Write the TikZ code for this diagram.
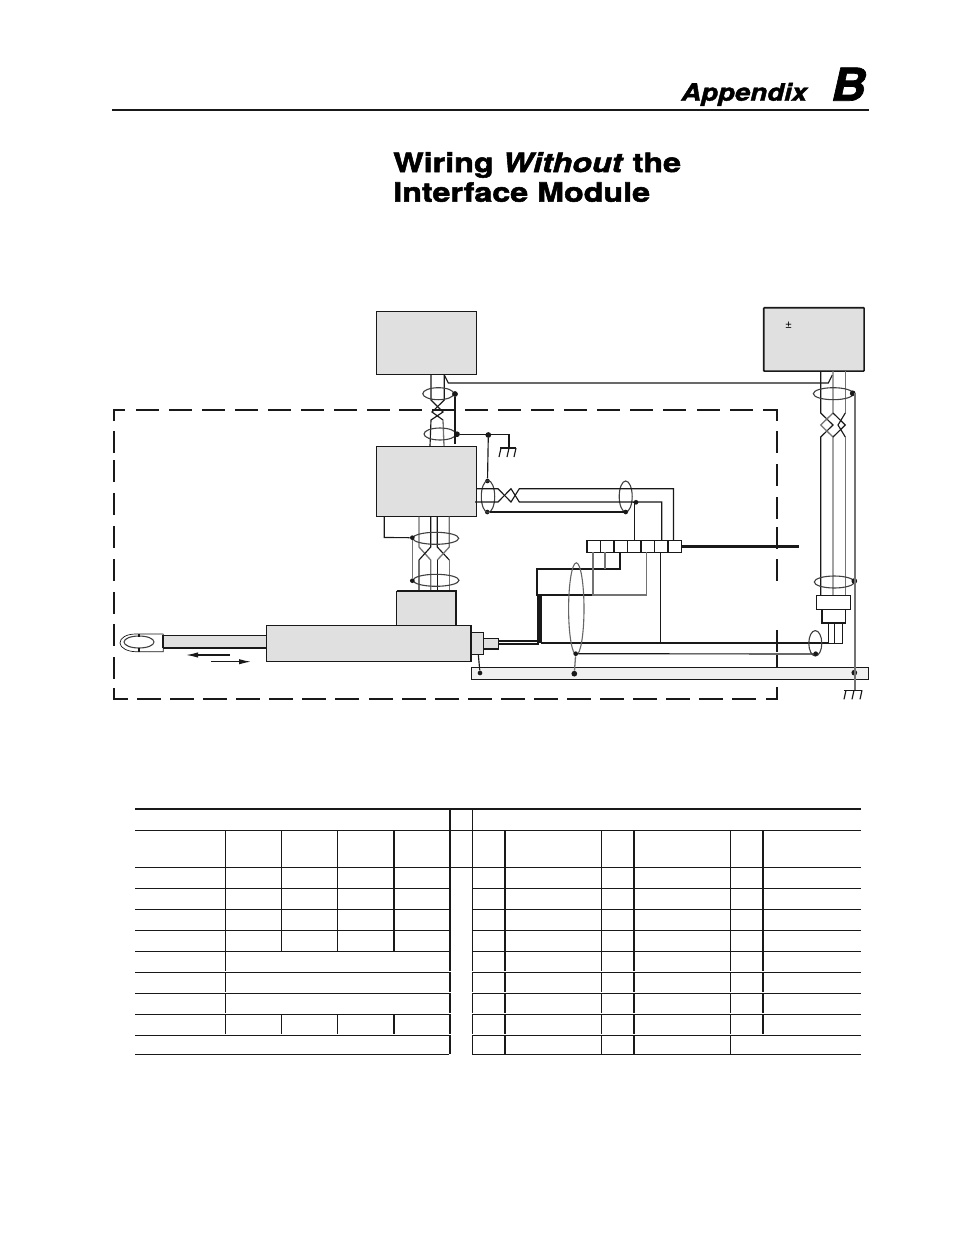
\documentclass[tikz,border=0pt]{standalone}
\usepackage{fontspec}
\usetikzlibrary{arrows.meta}
\setmainfont{TeX Gyre Heros}
\newfontfamily\ttlfont[BoldFeatures={FakeBold=2,FakeStretch=1.21},BoldItalicFeatures={FakeBold=2,FakeStretch=1.21}]{TeX Gyre Heros}
\newfontfamily\appfont[BoldFeatures={FakeBold=1.6,FakeStretch=1.15},BoldItalicFeatures={FakeBold=1.6,FakeStretch=1.15}]{TeX Gyre Heros}
\newfontfamily\bigfont[BoldItalicFeatures={FakeBold=1.5,FakeStretch=1.06}]{TeX Gyre Heros}
\tikzset{
  x=0.75pt,y=-0.75pt,
  px/.style={line width=#1*0.75pt},
  blk/.style={draw=black!90,px=1.15},
  gry/.style={draw=black!55,px=1.3},
  blockb/.style={draw=black!90,fill=black!12,px=1.4},
  thk/.style={draw=black!90,px=2},
  ell/.style={draw=black!75,px=1.1},
  dotb/.style={circle,fill=black!90,inner sep=0pt,minimum size=4.3pt},
  dots/.style={circle,fill=black!90,inner sep=0pt,minimum size=3.5pt},
  rul/.style={draw=black!90,px=1},
  rulb/.style={draw=black!90,px=1.8},
  ttl/.style={inner sep=0pt,anchor=base west},
}
\begin{document}
\begin{tikzpicture}
\useasboundingbox (0,0) rectangle (954,1235);
\fill[white] (0,0) rectangle (954,1235);
% header
\draw[rulb] (112,110) -- (868.5,110);
\node[ttl,font=\appfont\fontsize{18}{20}\selectfont\bfseries\itshape] (app) at (681,100.7) {Appendix};
\node[ttl,font=\bigfont\fontsize{34}{36}\selectfont\bfseries\itshape] (bb) at (831,100.7) {B};
\node[ttl,font=\ttlfont\fontsize{20}{22}\selectfont\bfseries] (t1) at (393,172) {Wiring \textit{Without} the};
\node[ttl,font=\ttlfont\fontsize{20}{22}\selectfont\bfseries] (t2) at (393,201.7) {Interface Module};
% dashed enclosure
\foreach \a in {136,169,202,235,268,301,334,367,399,432,465,498,531,564,597,630,663,697,730}
  \draw[thk] (\a,410) -- ++(23,0);
\draw[thk] (114,421) -- (114,410) -- (125,410);
\draw[thk] (763,410) -- (777.3,410) -- (777.3,421);
\foreach \a in {137,170,203,236,269,302,335,369,402,435,468,501,534,567,600,633,666,699,732}
  \draw[thk] (\a,698.7) -- ++(24,0);
\draw[thk] (114,688) -- (114,698.7) -- (128,698.7);
\draw[thk] (766,698.7) -- (777.3,698.7) -- (777.3,687);
\foreach \a in {431,464,497,527,559,630,655}
  \draw[thk] (777.3,\a) -- ++(0,22);
\foreach \a in {431,460,493,526,559,592,624,657}
  \draw[thk] (114,\a) -- ++(0,22);
% boxes
\node[blockb,minimum width=100*0.75pt,minimum height=63*0.75pt,inner sep=0pt] (box1) at (426.3,342.8) {};
\node[blockb,minimum width=100*0.75pt,minimum height=69.6*0.75pt,inner sep=0pt] (box2) at (426.3,481.5) {};
\node[blockb,px=1.6,minimum width=100.3*0.75pt,minimum height=63.3*0.75pt,inner sep=0pt,rounded corners=0.5pt] (box3) at (813.9,339.4) {};
\node[inner sep=0pt,font=\fontsize{9}{10}\selectfont] (pm) at (788.5,325.5) {±};
% bar
\node[draw=black!90,fill=black!6,px=0.9,minimum width=397.4*0.75pt,minimum height=12*0.75pt,inner sep=0pt] (bar) at (670,673.3) {};
% wires box1 to box2
\coordinate (w1a) at (431,374.3); \coordinate (w1b) at (444.3,374.3);
\draw[blk] (w1a) -- (431,400) -- (443,412) -- (431,420) -- (430,446);
\draw[blk] (w1b) -- (444.3,400) -- (432,412) -- (443,420);
\draw[gry] (443,420) -- (444,446);
\draw[blk] (444.3,375) -- (448.3,383) -- (828.3,383) -- (832.3,375);
\draw[ell] (438.3,393.7) ellipse [x radius=15.5,y radius=6];
\draw[ell] (440,434) ellipse [x radius=16,y radius=6];
\node[dotb] (d1) at (455,394) {};
\node[dotb] (d2) at (457,434.2) {};
\node[dotb] (d3) at (488.3,435) {};
\draw[blk] (d1) -- (455,444);
\draw[blk] (d2) -- (509,434.2) -- (509,447.5) coordinate (g1);
\draw[blk] (500,448) -- (516,448);
\foreach \a in {501,509,516} \draw[blk] (\a,448) -- ++(-2,9);
% box2 right pair
\node[dots] (d4) at (487.5,481) {};
\node[dots] (d5) at (487.3,512) {};
\draw[blk] (d3) -- (d4);
\draw[ell] (488,496.5) ellipse [x radius=6.7,y radius=16];
\draw[ell] (625.7,496.5) ellipse [x radius=6.5,y radius=15.5];
\draw[thk] (d5) -- (625.7,512);
\node[dots] (d6) at (625.7,512) {};
\node[dots] (d7) at (636,502.3) {};
\draw[blk] (476.3,488.7) -- (498,488.7) -- (511,502) -- (519.3,488.7) -- (673.5,488.7) -- (673.5,540.7);
\draw[blk] (475,502) -- (498,502) -- (511,488.7) -- (519.3,502) -- (661.7,502) -- (661.7,540.7);
\draw[blk] (d7) -- (634.3,502.3) -- (634.3,540.7);
% box2 bottom pairs
\coordinate (s1) at (419,516.5);
\draw[gry] (419,516.5) -- (419,547) -- (430.7,560) -- (430.7,590.7);
\draw[blk] (430.7,516.5) -- (430.7,547) -- (419,560);
\draw[gry] (419,560) -- (419,590.7);
\draw[blk] (437.3,516.5) -- (437.3,547) -- (449.3,560);
\draw[gry] (449.3,560) -- (449.3,590.7);
\draw[gry] (449.3,516.5) -- (449.3,547) -- (437.3,560);
\draw[blk] (437.3,560) -- (437.3,590.7);
\draw[ell] (435.7,538.3) ellipse [x radius=23,y radius=6];
\draw[ell] (436,580.3) ellipse [x radius=23,y radius=6];
\node[dots] (d8) at (412.3,537.7) {};
\node[dots] (d9) at (412.3,580.7) {};
\draw[gry] (d8) -- (d9);
\draw[blk] (384.3,516.5) -- (384.3,537.5) -- (d8);
% transducer
\node[draw=black!90,fill=black!12,px=0.9,minimum width=205*0.75pt,minimum height=36*0.75pt,inner sep=0pt] (body) at (368.8,643.3) {};
\draw[px=1.7,draw=black!90] (471.3,625.3) -- (471.3,661.3);
\fill[black!12] (396.7,590.7) rectangle (456,625.3);
\draw[blk] (396.7,625.3) -- (396.7,590.7);
\draw[thk] (396.7,590.7) -- (456,590.7) -- (456,625.3);
\node[draw=black!90,fill=black!12,px=0.9,minimum width=12.4*0.75pt,minimum height=22*0.75pt,inner sep=0pt] (plug1) at (477.5,643.3) {};
\node[draw=black!90,fill=black!12,px=1.4,minimum width=15*0.75pt,minimum height=10.7*0.75pt,inner sep=0pt] (plug2) at (491.2,643.7) {};
% rod
\fill[black!12] (163.3,635.3) rectangle (266,647.7);
\draw[blk,px=0.8] (163.3,635.3) -- (266,635.3);
\draw[thk] (163.3,647.7) -- (266,647.7);
\draw[thk] (163.3,635.3) -- (163.3,647.7);
\draw[blk,px=0.7] (163.3,634) -- (136,634) .. controls (126,634) and (120,638) .. (120,643) .. controls (120,648) and (128,651.7) .. (136,651.7) -- (163.3,651.7) -- (163.3,634);
\draw[ell] (139,642) ellipse [x radius=15,y radius=6];
\draw[blk] (139,634) -- (139,637);
\draw[blk] (139,648) -- (139,652);
\draw[blk,-{Latex[length=9pt,width=4pt]}] (230,655) -- (186,655);
\draw[blk,-{Latex[length=9pt,width=4pt]}] (211,661.7) -- (251,661.7);
% terminal strip
\draw[blk,fill=white] (586.7,540.7) rectangle (681.7,552.3);
\foreach \a in {600.7,627.3,654.3} \draw[blk] (\a,540.7) -- (\a,552.3);
\foreach \a in {586.7,614,641,668} \draw[px=1.7,draw=black!90] (\a,540.7) -- (\a,552.3);
\draw[thk,px=2.4] (681.7,546.3) -- (798.5,546.3);
% strip to bus
\draw[thk] (620,552.3) -- (620,568.7) -- (537,568.7) -- (537,595) -- (593,595);
\draw[gry] (593,552.3) -- (593,595) -- (646.7,595) -- (646.7,552.3);
\draw[gry] (605,552.3) -- (605,568.7);
\draw[draw=black!90,fill=black!90] (537.5,595) rectangle (541.5,642.5);
\draw[blk] (660.3,552.3) -- (660.3,642.7);
\draw[thk] (541,642.7) -- (828,642.7);
\draw[thk] (498.7,641) -- (538,641);
\draw[blk] (498.7,644) -- (539,644);
\draw[ell,draw=black!60] (576.3,608.8) ellipse [x radius=7.7,y radius=46];
\node[dots] (d10) at (575.7,653.7) {};
\node[dotb] (d11) at (574.3,673.7) {};
\node[dots] (d12) at (480,673) {};
\draw[gry] (d10) -- (d11);
\draw[blk] (478.3,654.3) -- (d12);
\draw[blk] (d10) -- (815.7,654);
% right side
\draw[blk] (820.7,371) -- (820.7,413) -- (833,425) -- (820.7,437) -- (820.7,596);
\draw[gry] (833,371) -- (833,413) -- (820.7,425) -- (833,437) -- (833,596);
\draw[gry] (845.3,371) -- (845.3,413);
\draw[blk] (845.3,413) -- (838,425) -- (845.3,437);
\draw[blk] (833,413) -- (845.3,425) -- (833,437);
\draw[gry] (845.3,437) -- (845.3,596);
\draw[ell] (833.3,393.7) ellipse [x radius=20,y radius=6];
\draw[ell] (834.3,582) ellipse [x radius=20,y radius=6];
\node[dotb] (d13) at (852.7,393.3) {};
\node[dotb] (d14) at (854.3,581) {};
\node[dotb] (d15) at (854.3,672.7) {};
\draw[gry] (d13) -- (855,393.3) -- (855,690);
% connector
\draw[draw=black!90,fill=white,px=1.5] (816.7,595.7) rectangle (850.3,609.3);
\draw[draw=black!90,fill=white,px=1.5] (822,609.3) rectangle (845.3,623);
\draw[blk,fill=white] (828.3,623) rectangle (842.7,643.3);
\draw[px=1.5,draw=black!90] (834.7,623) -- (834.7,643.3);
\draw[ell] (815.3,643.3) ellipse [x radius=6.5,y radius=12.7];
\node[dots] (d16) at (815.7,653.7) {};
% ground
\draw[blk] (844.3,690.3) -- (861.7,690.3);
\foreach \a in {846,854,862} \draw[blk] (\a,690.3) -- ++(-2,9);
% table
\foreach \xx in {225.3,281.3,337.3} \draw[rul] (\xx,830.3) -- (\xx,951.3) (\xx,1014.3) -- (\xx,1035);
\draw[rul] (225.3,951.3) -- (225.3,1014.3);
\foreach \xx in {393.7} \draw[rulb] (\xx,830.3) -- (\xx,951.3) (\xx,1014.3) -- (\xx,1035);
\draw[draw=black!90,px=2] (450,809) -- (450,1054.3);
\draw[rul] (472.3,809) -- (472.3,1054.3);
\draw[rulb] (505,830.3) -- (505,1054.3);
\draw[rul] (601.3,830.3) -- (601.3,1054.3);
\draw[rulb] (634,830.3) -- (634,1054.3);
\draw[rul] (730.3,830.3) -- (730.3,1054.3);
\draw[rulb] (763,830.3) -- (763,1035);
\foreach \yy in {971.3,992.3,1013.3,1034.3} \draw[white,px=1.1] (135,\yy) -- (861,\yy);
\draw[rulb] (135,809) -- (860.7,809);
\draw[rul] (135,830.3) -- (860.7,830.3);
\draw[rul] (135,867.3) -- (860.7,867.3);
\foreach \yy in {888.3,909.3,930.3,951.3,972.3,993.3,1014.3,1035.3}
  \draw[rul] (135,\yy) -- (449,\yy) (472.3,\yy) -- (860.7,\yy);
\draw[rul] (135,1054.3) -- (449,1054.3) (472.3,1054.3) -- (860.7,1054.3);
\end{tikzpicture}
\end{document}
